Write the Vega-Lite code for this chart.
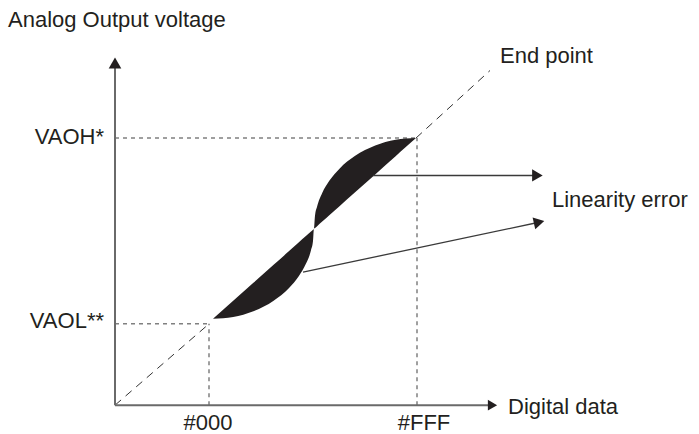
{
  "$schema": "https://vega.github.io/schema/vega-lite/v6.json",
  "width": 699,
  "height": 434,
  "autosize": {"type": "fit", "contains": "padding"},
  "padding": 0,
  "background": "white",
  "config": {"view": {"stroke": null}},
  "datasets": {
    "lobes": [
      {"x": 98, "lo": 87, "hi": 87},
      {"x": 108.1, "lo": 87.5, "hi": 96.1},
      {"x": 118.2, "lo": 88.8, "hi": 105.1},
      {"x": 138.4, "lo": 94.6, "hi": 123.2},
      {"x": 158.6, "lo": 105.2, "hi": 141.3},
      {"x": 173.8, "lo": 117.8, "hi": 154.9},
      {"x": 183.9, "lo": 130.1, "hi": 164.0},
      {"x": 190.9, "lo": 142.3, "hi": 170.3},
      {"x": 196.0, "lo": 155.9, "hi": 174.8},
      {"x": 198.0, "lo": 165.2, "hi": 176.6},
      {"x": 199.0, "lo": 178, "hi": 178},
      {"x": 200.0, "lo": 178.5, "hi": 190.8},
      {"x": 202.1, "lo": 180.3, "hi": 200.1},
      {"x": 207.2, "lo": 184.9, "hi": 213.7},
      {"x": 214.3, "lo": 191.3, "hi": 225.9},
      {"x": 224.5, "lo": 200.4, "hi": 238.2},
      {"x": 239.8, "lo": 214.1, "hi": 250.8},
      {"x": 260.2, "lo": 232.4, "hi": 261.4},
      {"x": 280.6, "lo": 250.7, "hi": 267.2},
      {"x": 290.8, "lo": 259.9, "hi": 268.5},
      {"x": 301, "lo": 269, "hi": 269}
    ],
    "axes": [
      {"x": 0, "y": 0, "x2": 0, "y2": 341},
      {"x": 0, "y": 0, "x2": 374, "y2": 0}
    ],
    "guides": [
      {"x": 0, "y": 82, "x2": 94, "y2": 82},
      {"x": 94, "y": 0, "x2": 94, "y2": 82},
      {"x": 0, "y": 269, "x2": 302, "y2": 269},
      {"x": 302, "y": 0, "x2": 302, "y2": 269}
    ],
    "diagonal": [
      {"x": 0, "y": 0, "x2": 93, "y2": 81},
      {"x": 301, "y": 269, "x2": 375, "y2": 337}
    ],
    "pointers": [
      {"x": 258, "y": 231.3, "x2": 423, "y2": 231.3},
      {"x": 188, "y": 134, "x2": 424, "y2": 184.2}
    ],
    "headUp": [{"x": 0, "y": 344.5}],
    "headRight": [{"x": 377.5, "y": 0}],
    "headPtr": [{"x": 422.4, "y": 231.3}],
    "headPtrTilt": [{"x": 424.1, "y": 184.2}],
    "textLeft": [
      {"x": -107, "y": 380.7, "label": "Analog Output voltage"},
      {"x": 385, "y": 344.7, "label": "End point"},
      {"x": 393, "y": -8.7, "label": "Digital data"},
      {"x": 437, "y": 199.7, "label": "Linearity error"}
    ],
    "textRight": [
      {"x": -11, "y": 263, "label": "VAOH*"},
      {"x": -11, "y": 78, "label": "VAOL**"}
    ],
    "textCenter": [
      {"x": 93, "y": -24.5, "label": "#000"},
      {"x": 309, "y": -24.5, "label": "#FFF"}
    ]
  },
  "layer": [
    {
      "data": {"name": "guides"},
      "mark": {"type": "rule", "color": "#808080", "strokeWidth": 1.5, "strokeDash": [4, 4]},
      "encoding": {
        "x": {"field": "x", "type": "quantitative", "scale": {"domain": [-115, 584], "nice": false, "zero": false}, "axis": null},
        "y": {"field": "y", "type": "quantitative", "scale": {"domain": [-26, 408], "nice": false, "zero": false}, "axis": null},
        "x2": {"field": "x2"},
        "y2": {"field": "y2"}
      }
    },
    {
      "data": {"name": "diagonal"},
      "mark": {"type": "rule", "color": "#333333", "strokeWidth": 1, "strokeDash": [8, 6]},
      "encoding": {
        "x": {"field": "x", "type": "quantitative", "scale": {"domain": [-115, 584], "nice": false, "zero": false}, "axis": null},
        "y": {"field": "y", "type": "quantitative", "scale": {"domain": [-26, 408], "nice": false, "zero": false}, "axis": null},
        "x2": {"field": "x2"},
        "y2": {"field": "y2"}
      }
    },
    {
      "data": {"name": "lobes"},
      "mark": {"type": "area", "color": "#231f20", "interpolate": "monotone", "opacity": 1},
      "encoding": {
        "x": {"field": "x", "type": "quantitative", "scale": {"domain": [-115, 584], "nice": false, "zero": false}, "axis": null},
        "y": {"field": "lo", "type": "quantitative", "scale": {"domain": [-26, 408], "nice": false, "zero": false}, "axis": null},
        "y2": {"field": "hi"}
      }
    },
    {
      "data": {"name": "axes"},
      "mark": {"type": "rule", "color": "#6a6a6a", "strokeWidth": 2},
      "encoding": {
        "x": {"field": "x", "type": "quantitative", "scale": {"domain": [-115, 584], "nice": false, "zero": false}, "axis": null},
        "y": {"field": "y", "type": "quantitative", "scale": {"domain": [-26, 408], "nice": false, "zero": false}, "axis": null},
        "x2": {"field": "x2"},
        "y2": {"field": "y2"}
      }
    },
    {
      "data": {"name": "pointers"},
      "mark": {"type": "rule", "color": "#3a3a3a", "strokeWidth": 1.3},
      "encoding": {
        "x": {"field": "x", "type": "quantitative", "scale": {"domain": [-115, 584], "nice": false, "zero": false}, "axis": null},
        "y": {"field": "y", "type": "quantitative", "scale": {"domain": [-26, 408], "nice": false, "zero": false}, "axis": null},
        "x2": {"field": "x2"},
        "y2": {"field": "y2"}
      }
    },
    {
      "data": {"name": "headUp"},
      "mark": {"type": "point", "shape": "triangle-up", "size": 160, "filled": true, "color": "#231f20", "opacity": 1},
      "encoding": {
        "x": {"field": "x", "type": "quantitative", "scale": {"domain": [-115, 584], "nice": false, "zero": false}, "axis": null},
        "y": {"field": "y", "type": "quantitative", "scale": {"domain": [-26, 408], "nice": false, "zero": false}, "axis": null}
      }
    },
    {
      "data": {"name": "headRight"},
      "mark": {"type": "point", "shape": "triangle-right", "size": 115, "filled": true, "color": "#231f20", "opacity": 1},
      "encoding": {
        "x": {"field": "x", "type": "quantitative", "scale": {"domain": [-115, 584], "nice": false, "zero": false}, "axis": null},
        "y": {"field": "y", "type": "quantitative", "scale": {"domain": [-26, 408], "nice": false, "zero": false}, "axis": null}
      }
    },
    {
      "data": {"name": "headPtr"},
      "mark": {"type": "point", "shape": "triangle-right", "size": 150, "filled": true, "color": "#231f20", "opacity": 1},
      "encoding": {
        "x": {"field": "x", "type": "quantitative", "scale": {"domain": [-115, 584], "nice": false, "zero": false}, "axis": null},
        "y": {"field": "y", "type": "quantitative", "scale": {"domain": [-26, 408], "nice": false, "zero": false}, "axis": null}
      }
    },
    {
      "data": {"name": "headPtrTilt"},
      "mark": {"type": "point", "shape": "triangle-right", "size": 150, "angle": 347.6, "filled": true, "color": "#231f20", "opacity": 1},
      "encoding": {
        "x": {"field": "x", "type": "quantitative", "scale": {"domain": [-115, 584], "nice": false, "zero": false}, "axis": null},
        "y": {"field": "y", "type": "quantitative", "scale": {"domain": [-26, 408], "nice": false, "zero": false}, "axis": null}
      }
    },
    {
      "data": {"name": "textLeft"},
      "mark": {"type": "text", "align": "left", "baseline": "alphabetic", "font": "Liberation Sans", "fontSize": 22, "color": "#231f20"},
      "encoding": {
        "x": {"field": "x", "type": "quantitative", "scale": {"domain": [-115, 584], "nice": false, "zero": false}, "axis": null},
        "y": {"field": "y", "type": "quantitative", "scale": {"domain": [-26, 408], "nice": false, "zero": false}, "axis": null},
        "text": {"field": "label"}
      }
    },
    {
      "data": {"name": "textRight"},
      "mark": {"type": "text", "align": "right", "baseline": "alphabetic", "font": "Liberation Sans", "fontSize": 22, "color": "#231f20"},
      "encoding": {
        "x": {"field": "x", "type": "quantitative", "scale": {"domain": [-115, 584], "nice": false, "zero": false}, "axis": null},
        "y": {"field": "y", "type": "quantitative", "scale": {"domain": [-26, 408], "nice": false, "zero": false}, "axis": null},
        "text": {"field": "label"}
      }
    },
    {
      "data": {"name": "textCenter"},
      "mark": {"type": "text", "align": "center", "baseline": "alphabetic", "font": "Liberation Sans", "fontSize": 22, "color": "#231f20"},
      "encoding": {
        "x": {"field": "x", "type": "quantitative", "scale": {"domain": [-115, 584], "nice": false, "zero": false}, "axis": null},
        "y": {"field": "y", "type": "quantitative", "scale": {"domain": [-26, 408], "nice": false, "zero": false}, "axis": null},
        "text": {"field": "label"}
      }
    }
  ]
}
